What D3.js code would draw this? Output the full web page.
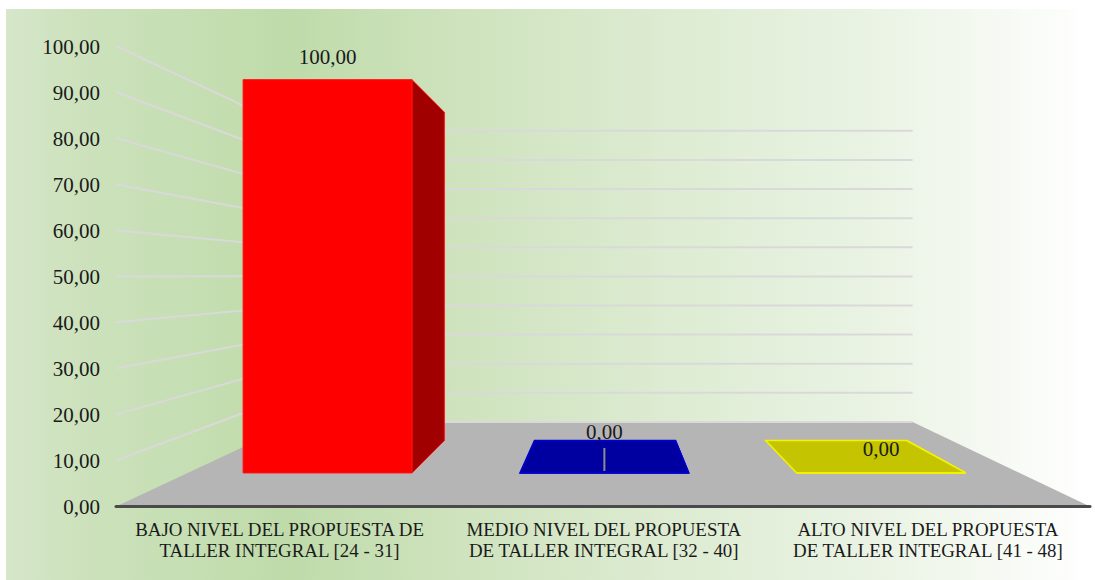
<!DOCTYPE html>
<html>
<head>
<meta charset="utf-8">
<script src="https://cdn.jsdelivr.net/npm/d3@7"></script>
<style>
  body { margin: 0; background: #fff; }
  text { font-family: "Liberation Serif", serif; fill: #1a1a1a; }
</style>
</head>
<body>
<div id="chart"></div>
<script>
//Chart data
var categories = [
  ["BAJO NIVEL DEL PROPUESTA DE", "TALLER INTEGRAL [24 - 31]"],
  ["MEDIO NIVEL DEL PROPUESTA", "DE TALLER INTEGRAL [32 - 40]"],
  ["ALTO NIVEL DEL PROPUESTA", "DE TALLER INTEGRAL [41 - 48]"]
];
var values = [100, 0, 0];
var tickValues = [0, 10, 20, 30, 40, 50, 60, 70, 80, 90, 100];

//Look of each bar: face, side and edge colours
var faceColors = ["#ff0000", "#0000a0", "#c4c400"];
var sideColors = ["#a00000", "#000080", "#a0a000"];
var edgeColors = ["#ff1010", "#0000d0", "#f4f400"];
var labelLift = [16, 34, 17];

var width = 1095,
    height = 580;

var svg = d3.select("#chart").append("svg")
  .attr("width", width)
  .attr("height", height)
  .style("display", "block");

//Scales for the front plane of the 3D box
var left = 116, right = 1090;
var x = d3.scaleBand().domain(d3.range(categories.length)).range([117.5, right]).paddingInner(0.39).paddingOuter(0.195);
var y = d3.scaleLinear().domain([0, 100]).range([506.5, 46]);
var label = function(v) { return d3.format(".2f")(v).replace(".", ","); };

//Perspective: s is the shrink factor (1 = front plane, backS = back wall)
var vanish = { x: 608, y: 276.6 };
var backS = 0.632, barFrontS = 0.854, barBackS = 0.713;
function project(px, py, s) {
  return [vanish.x + (px - vanish.x) * s, vanish.y + (py - vanish.y) * s];
}
function poly(points) {
  return "M" + points.map(function(p) { return p.join(","); }).join("L") + "Z";
}

//Background
var defs = svg.append("defs");
var grad = defs.append("linearGradient").attr("id", "bg");
grad.append("stop").attr("offset", "0%").attr("stop-color", "#d6e7ca");
grad.append("stop").attr("offset", "6%").attr("stop-color", "#cde2bd");
grad.append("stop").attr("offset", "26%").attr("stop-color", "#bfdbaa");
grad.append("stop").attr("offset", "42%").attr("stop-color", "#cfe3be");
grad.append("stop").attr("offset", "62%").attr("stop-color", "#deecd3");
grad.append("stop").attr("offset", "80%").attr("stop-color", "#eaf3e4");
grad.append("stop").attr("offset", "100%").attr("stop-color", "#ffffff");

svg.append("rect")
  .attr("x", 6).attr("y", 9)
  .attr("width", width - 6).attr("height", height - 9)
  .attr("fill", "url(#bg)");

//Floor
var zero = y(0);
svg.append("path")
  .attr("d", poly([[left, zero], project(left, zero, backS), project(right, zero, backS), [right, zero]]))
  .attr("fill", "#b5b5b5");

//Grid lines on the left wall and the back wall
var grid = svg.append("g").attr("fill", "none").attr("stroke", "#d9d9d9").attr("stroke-width", 2);
grid.selectAll(".wall")
  .data(tickValues.filter(function(d) { return d > 0; }))
  .enter().append("path")
  .attr("class", "wall")
  .attr("d", function(d) {
    return "M" + [left, y(d)].join(",") + "L" + project(left, y(d), backS).join(",");
  });
grid.selectAll(".back")
  .data(tickValues)
  .enter().append("path")
  .attr("class", "back")
  .attr("d", function(d) {
    return "M" + project(left, y(d), backS).join(",") + "L" + project(right, y(d), backS).join(",");
  });

//Base line of the front plane
svg.append("line")
  .attr("x1", left).attr("x2", right)
  .attr("y1", zero).attr("y2", zero)
  .attr("stroke", "#4a4a4a").attr("stroke-width", 3).attr("stroke-linecap", "round");

//Bars: side face, flat top (only seen when the bar has no height), front face
var bars = svg.selectAll(".bar")
  .data(values)
  .enter().append("g")
  .attr("class", "bar")
  .attr("stroke-width", function(d) { return d > 0 ? 1 : 1.5; })
  .attr("stroke", function(d, i) { return edgeColors[i]; });

function corner(i, side, v, s) {
  var px = x(i) + (side ? x.bandwidth() : 0);
  return project(px, y(v), s);
}

bars.append("path")
  .attr("fill", function(d, i) { return sideColors[i]; })
  .attr("d", function(d, i) {
    return poly([corner(i, 1, 0, barFrontS), corner(i, 1, d, barFrontS), corner(i, 1, d, barBackS), corner(i, 1, 0, barBackS)]);
  });
bars.append("path")
  .attr("fill", function(d, i) { return faceColors[i]; })
  .attr("d", function(d, i) {
    if (d > 0) return null;
    return poly([corner(i, 0, d, barFrontS), corner(i, 1, d, barFrontS), corner(i, 1, d, barBackS), corner(i, 0, d, barBackS)]);
  });
bars.append("path")
  .attr("fill", function(d, i) { return faceColors[i]; })
  .attr("d", function(d, i) {
    return poly([corner(i, 0, 0, barFrontS), corner(i, 1, 0, barFrontS), corner(i, 1, d, barFrontS), corner(i, 0, d, barFrontS)]);
  });

//Small gray leader line on the middle bar
var mid = project(x(1) + x.bandwidth() / 2, zero, barFrontS);
svg.append("line")
  .attr("x1", mid[0]).attr("x2", mid[0])
  .attr("y1", mid[1] - 2).attr("y2", mid[1] - 25)
  .attr("stroke", "#8c8c8c").attr("stroke-width", 2);

//Value labels
svg.selectAll(".value")
  .data(values)
  .enter().append("text")
  .attr("class", "value")
  .attr("text-anchor", "middle")
  .attr("font-size", 21)
  .attr("x", function(d, i) { return project(x(i) + x.bandwidth() / 2, y(d), barFrontS)[0]; })
  .attr("y", function(d, i) { return project(x(i), y(d), barFrontS)[1] - labelLift[i]; })
  .text(label);

//Value axis, text only
var axis = svg.append("g")
  .attr("transform", "translate(" + left + ",0)")
  .call(d3.axisLeft(y).tickValues(tickValues).tickFormat(label).tickSize(0).tickPadding(16));
axis.select(".domain").remove();
axis.selectAll("text")
  .attr("dy", "0.34em")
  .attr("font-size", 21)
  .attr("font-family", "Liberation Serif")
  .attr("fill", "#1a1a1a");

//Category labels
var cat = svg.selectAll(".cat")
  .data(categories)
  .enter().append("text")
  .attr("class", "cat")
  .attr("text-anchor", "middle")
  .attr("font-size", 18.9)
  .attr("y", 535.5);
cat.selectAll("tspan")
  .data(function(d, i) { return d.map(function(t) { return { t: t, i: i }; }); })
  .enter().append("tspan")
  .attr("x", function(d) { return x(d.i) + x.bandwidth() / 2; })
  .attr("dy", function(d, j) { return j ? 21 : 0; })
  .text(function(d) { return d.t; });
</script>
</body>
</html>
